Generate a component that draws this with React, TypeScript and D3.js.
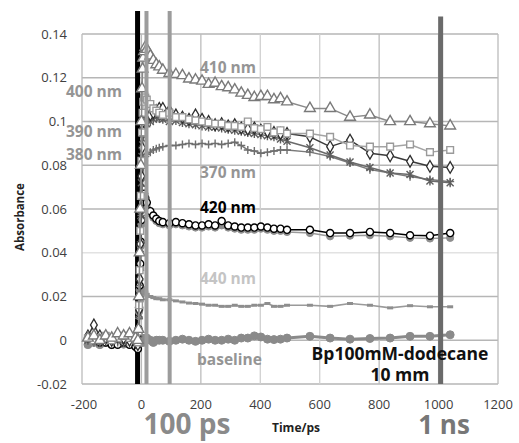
import React from "react";
import * as d3 from "d3";

// ---- data ----
const times = [-180,-160,-140,-120,-100,-80,-60,-40,-20,-12,
  -10,-8,-6,-4,-2,0,2,4,6,9,13,18,
  30,40,50,60,
  72,94,116,138,160,182,204,226,248,270,292,314,336,358,380,402,424,446,468,490,
  567,635,702,769,837,904,971,1039];

const abs410 = [0.001,0.002,0.000,0.002,0.001,0.003,0.002,0.003,0.001,0.000,
  0.005,0.020,0.040,0.060,0.080,0.100,0.115,0.124,0.129,0.132,0.134,0.133,
  0.130,0.128,0.126,0.125,
  0.1235,0.122,0.1215,0.121,0.1195,0.119,0.1185,0.117,0.1175,0.116,0.1155,0.1145,0.113,0.112,0.111,0.1115,0.1115,0.110,0.1105,0.109,
  0.106,0.106,0.102,0.103,0.100,0.100,0.099,0.098];

const abs400 = [0.001,0.000,0.001,0.002,0.000,0.001,0.002,0.001,0.000,-0.001,
  0.004,0.016,0.032,0.050,0.066,0.082,0.095,0.104,0.109,0.111,0.111,0.110,
  0.108,0.106,0.105,0.104,
  0.103,0.104,0.102,0.102,0.101,0.1005,0.100,0.0995,0.099,0.099,0.098,0.098,0.0975,0.100,0.097,0.0965,0.0975,0.095,0.096,0.0945,
  0.0945,0.093,0.089,0.0885,0.0885,0.0895,0.086,0.087];

const abs390 = [0.002,0.007,0.002,0.001,0.000,0.002,0.001,0.000,-0.001,-0.002,
  0.003,0.014,0.028,0.044,0.060,0.075,0.088,0.096,0.100,0.102,0.103,0.103,
  0.103,0.104,0.105,0.106,
  0.106,0.105,0.103,0.102,0.101,0.103,0.101,0.100,0.0985,0.099,0.098,0.0985,0.097,0.0965,0.097,0.096,0.0955,0.095,0.0945,0.0945,
  0.093,0.0885,0.0915,0.0855,0.0843,0.0818,0.0795,0.079];

const abs380 = [0.000,0.001,-0.001,0.000,0.001,0.000,-0.001,0.000,0.001,-0.001,
  0.003,0.012,0.026,0.042,0.057,0.072,0.084,0.092,0.096,0.098,0.099,0.099,
  0.100,0.101,0.102,0.1015,
  0.101,0.100,0.1005,0.0995,0.099,0.0985,0.098,0.0975,0.0975,0.097,0.0965,0.096,0.0955,0.095,0.0945,0.094,0.0935,0.093,0.092,0.091,
  0.088,0.0847,0.0815,0.079,0.0765,0.0758,0.0728,0.072];

const abs370 = [0.000,-0.001,0.000,0.001,0.000,-0.001,0.000,0.001,0.000,-0.001,
  0.002,0.010,0.020,0.032,0.045,0.057,0.067,0.074,0.079,0.082,0.084,0.085,
  0.086,0.087,0.0875,0.088,
  0.0885,0.089,0.089,0.0895,0.090,0.0895,0.090,0.0895,0.090,0.0895,0.090,0.0905,0.089,0.087,0.0865,0.0855,0.086,0.0865,0.087,0.087,
  0.086,0.084,0.081,0.078,0.0765,0.0748,0.0735,0.0725];

const abs420 = [0.001,0.000,-0.001,-0.001,-0.002,-0.002,-0.001,-0.002,-0.003,-0.004,
  0.005,0.015,0.025,0.035,0.045,0.055,0.063,0.068,0.069,0.067,0.065,0.063,
  0.059,0.057,0.0555,0.0545,
  0.054,0.0535,0.054,0.0535,0.053,0.0525,0.0525,0.053,0.0525,0.0545,0.0525,0.052,0.0515,0.0515,0.0515,0.052,0.0515,0.051,0.051,0.0505,
  0.0505,0.049,0.049,0.0495,0.049,0.048,0.0478,0.049];

const abs420b = [0.000,-0.001,-0.002,-0.001,-0.002,-0.001,-0.002,-0.002,-0.002,-0.003,
  0.004,0.013,0.023,0.033,0.043,0.053,0.061,0.066,0.067,0.065,0.063,0.061,
  0.058,0.056,0.0545,0.0535,
  0.053,0.0525,0.053,0.0525,0.052,0.0515,0.0515,0.052,0.0515,0.0525,0.0515,0.051,0.0505,0.0505,0.0505,0.051,0.0505,0.050,0.050,0.0495,
  0.049,0.0475,0.0478,0.048,0.0475,0.0468,0.0465,0.0468];

const abs440 = [0.000,0.001,0.000,-0.001,0.000,0.001,0.000,-0.001,0.000,-0.001,
  0.002,0.006,0.010,0.014,0.018,0.021,0.023,0.024,0.024,0.023,0.022,0.021,
  0.020,0.0195,0.019,0.019,
  0.0185,0.0185,0.018,0.0175,0.017,0.0168,0.0165,0.016,0.016,0.0155,0.0155,0.016,0.0155,0.0155,0.016,0.016,0.0168,0.0155,0.0155,0.016,
  0.016,0.0155,0.0168,0.016,0.0148,0.0158,0.0153,0.0153];

const absBaseline = [-0.002,-0.001,-0.002,-0.001,-0.002,-0.001,0.000,-0.001,0.000,-0.001,
  0.001,-0.001,0.000,0.001,-0.001,0.000,0.001,0.000,-0.001,0.000,0.000,0.001,
  0.000,-0.001,0.000,0.000,
  0.000,-0.0005,0.000,0.0005,0.000,-0.0005,0.000,0.0005,0.000,0.000,0.0005,0.000,0.001,0.001,0.002,0.0015,0.0005,0.0003,0.0005,0.001,
  0.0018,0.001,0.0005,0.0008,0.001,0.0018,0.0018,0.0025];

const xTicks = [-200, 0, 200, 400, 600, 800, 1000, 1200];
const yTicks = [-0.02, 0, 0.02, 0.04, 0.06, 0.08, 0.1, 0.12, 0.14];
const yTickLabels = ["-0.02", "0", "0.02", "0.04", "0.06", "0.08", "0.1", "0.12", "0.14"];

const guideTimes = [-13, 17, 95, 1007];
const guideTops = [0.1505, 0.1505, 0.1505, 0.148];

const FONT = "'Open Sans', 'Segoe UI', sans-serif";

const W = 519, H = 443;
const M = { left: 82, right: 498, top: 34, bottom: 384 };

const x = d3.scaleLinear().domain([-200, 1200]).range([M.left, M.right]);
const y = d3.scaleLinear().domain([-0.02, 0.14]).range([M.bottom, M.top]);

const plusPath = "M-4,0H4M0,-4V4";
const starPath = "M-3.5,-3.5L3.5,3.5M-3.5,3.5L3.5,-3.5M0,-4.5V4.5";
const dashPath = "M-3,0H3";

type Series = {
  values: number[];
  stroke: string;
  width: number;
  marker: string;
  mFill: string;
  mStroke: string;
  mWidth: number;
};

const series: Series[] = [
  { values: absBaseline, stroke: "#8a8a8a", width: 3, marker: d3.symbol(d3.symbolCircle, 50)()!, mFill: "#8a8a8a", mStroke: "#8a8a8a", mWidth: 1 },
  { values: abs440, stroke: "#9a9a9a", width: 1.6, marker: dashPath, mFill: "none", mStroke: "#8e8e8e", mWidth: 3 },
  { values: abs420b, stroke: "#9a9a9a", width: 1.5, marker: d3.symbol(d3.symbolCircle, 40)()!, mFill: "#8e8e8e", mStroke: "#8e8e8e", mWidth: 1 },
  { values: abs420, stroke: "#000", width: 1.5, marker: d3.symbol(d3.symbolCircle, 40)()!, mFill: "#fff", mStroke: "#000", mWidth: 1.4 },
  { values: abs370, stroke: "#7a7a7a", width: 1.5, marker: plusPath, mFill: "none", mStroke: "#6e6e6e", mWidth: 1.4 },
  { values: abs380, stroke: "#6a6a6a", width: 1.5, marker: starPath, mFill: "none", mStroke: "#5e5e5e", mWidth: 1.4 },
  { values: abs390, stroke: "#3a3a3a", width: 1.5, marker: d3.symbol(d3.symbolDiamond, 40)()!, mFill: "#fff", mStroke: "#2e2e2e", mWidth: 1.3 },
  { values: abs400, stroke: "#a4a4a4", width: 1.5, marker: d3.symbol(d3.symbolSquare, 45)()!, mFill: "#fff", mStroke: "#9a9a9a", mWidth: 1.4 },
  { values: abs410, stroke: "#8a8a8a", width: 1.5, marker: d3.symbol(d3.symbolTriangle, 50)()!, mFill: "#fff", mStroke: "#7a7a7a", mWidth: 1.4 },
];

const line = d3.line<[number, number]>().x(d => x(d[0])).y(d => y(d[1]));

export default function App() {
  return (
    <svg width={W} height={H} style={{ position: "absolute", left: 0, top: 0, background: "#fff" }} fontFamily={FONT}>
      <rect x={0} y={0} width={W} height={H} fill="#fff" />
      {/* gridlines */}
      {yTicks.map((t, i) => (
        <line key={"gy" + i} x1={M.left} x2={M.right} y1={y(t)} y2={y(t)}
          stroke={t === 0.04 ? "#e2e2e2" : "#b6b6b6"} strokeWidth={1.3} />
      ))}
      {xTicks.map((t, i) => (
        <line key={"gx" + i} x1={x(t)} x2={x(t)} y1={M.top} y2={M.bottom}
          stroke={t === 400 || t === 600 ? "#d0d0d0" : "#bcbcbc"} strokeWidth={1.3} />
      ))}
      {/* tick labels */}
      {yTicks.map((t, i) => (
        <text key={"ty" + i} x={67} y={y(t) + 4.5} textAnchor="end" fontSize={13} fill="#404040">{yTickLabels[i]}</text>
      ))}
      {xTicks.map((t, i) => (
        <text key={"tx" + i} x={x(t) + (t < 0 ? 2 : 0)} y={409} textAnchor="middle" fontSize={13} fill="#404040">{t}</text>
      ))}
      {/* black time-zero guide */}
      <line x1={x(guideTimes[0])} x2={x(guideTimes[0])} y1={y(guideTops[0])} y2={M.bottom} stroke="#000" strokeWidth={5} />
      {/* series */}
      {series.map((s, si) => {
        const pts: [number, number][] = times.map((t, i) => [t, s.values[i]]);
        return (
          <g key={"s" + si}>
            <path d={line(pts)!} fill="none" stroke={s.stroke} strokeWidth={s.width} strokeLinejoin="round" />
            {pts.map((p, i) => (
              <path key={i} d={s.marker} transform={`translate(${x(p[0])},${y(p[1])})`}
                fill={s.mFill} stroke={s.mStroke} strokeWidth={s.mWidth} />
            ))}
          </g>
        );
      })}
      {/* gray guides */}
      <line x1={x(guideTimes[1])} x2={x(guideTimes[1])} y1={y(guideTops[1])} y2={M.bottom} stroke="#9c9c9c" strokeWidth={4} />
      <line x1={x(guideTimes[2])} x2={x(guideTimes[2])} y1={y(guideTops[2])} y2={M.bottom} stroke="#9c9c9c" strokeWidth={4} />
      <line x1={x(guideTimes[3])} x2={x(guideTimes[3])} y1={y(guideTops[3])} y2={M.bottom} stroke="#6a6a6a" strokeWidth={5} />

      {/* series labels */}
      <g fontWeight="bold" fontSize={15.5}>
        <text x={200} y={73} fill="#959595">410 nm</text>
        <text x={66} y={97} fill="#959595">400 nm</text>
        <text x={66} y={137} fill="#959595">390 nm</text>
        <text x={66} y={160} fill="#959595">380 nm</text>
        <text x={200} y={178} fill="#959595">370 nm</text>
        <text x={200} y={213} fill="#000">420 nm</text>
        <text x={200} y={284} fill="#c4c4c4">440 nm</text>
        <text x={197} y={365} fill="#959595">baseline</text>
      </g>
      <text x={400} y={360} textAnchor="middle" fontWeight="bold" fontSize={17.5} fill="#111">Bp100mM-dodecane</text>
      <text x={400} y={381} textAnchor="middle" fontWeight="bold" fontSize={17.5} fill="#111">10 mm</text>

      {/* axis titles */}
      <text transform="translate(24,217) rotate(-90)" textAnchor="middle" fontWeight="bold" fontSize={11.5} fill="#222">Absorbance</text>
      <text x={296} y={432} textAnchor="middle" fontWeight="bold" fontSize={12} fill="#222">Time/ps</text>

      {/* big annotations */}
      <text x={187} y={434} textAnchor="middle" fontWeight="bold" fontSize={28} fill="#8a8a8a">100 ps</text>
      <text x={444} y={434} textAnchor="middle" fontWeight="bold" fontSize={26} fill="#777">1 ns</text>
    </svg>
  );
}
